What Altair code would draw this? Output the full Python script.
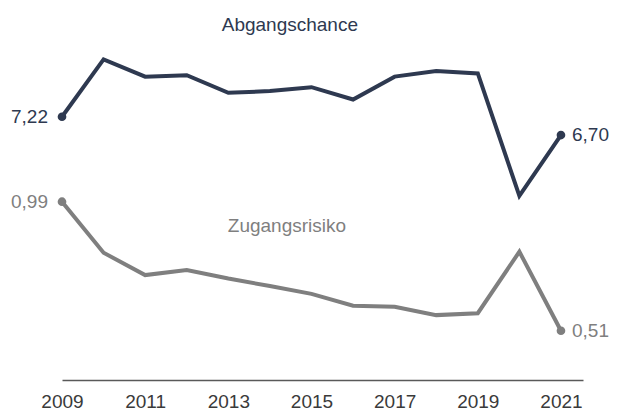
import altair as alt
import pandas as pd

# ---- data ----
years = list(range(2009, 2022))
abgangschance = [7.22, 8.85, 8.36, 8.40, 7.90, 7.95, 8.06, 7.71, 8.36, 8.52, 8.45, 4.97, 6.70]
zugangsrisiko = [0.99, 0.80, 0.717, 0.736, 0.704, 0.676, 0.647, 0.603, 0.599, 0.568, 0.575, 0.804, 0.51]
tick_years = [2009, 2011, 2013, 2015, 2017, 2019, 2021]
series_names = ["Abgangschance", "Zugangsrisiko"]

NAVY = "#2E3950"
GREY = "#7F7F7F"
FONT = "Liberation Sans"


def fmt(v):
    return f"{v:.2f}".replace(".", ",")


df = pd.DataFrame({"year": years, "a": abgangschance, "z": zugangsrisiko})
df["a_label"] = df["a"].map(fmt)
df["z_label"] = df["z"].map(fmt)

first, last = years[0], years[-1]

xs = alt.Scale(domain=[2009, 2021.53], nice=False, zero=False)
xaxis = alt.Axis(values=tick_years, format="d", title=None, grid=False, ticks=False,
                 domain=True, domainColor="#595959", domainWidth=1.5,
                 labelFontSize=19, labelFont=FONT, labelColor="#3A3A3A",
                 labelPadding=12, labelFlush=False)
ya = alt.Scale(domain=[-0.26, 10.31], nice=False, zero=False)
yz = alt.Scale(domain=[0.3266, 1.7107], nice=False, zero=False)

base = alt.Chart(df)
X = alt.X("year:Q", scale=xs, axis=xaxis)
Ya = alt.Y("a:Q", scale=ya, axis=None)
Yz = alt.Y("z:Q", scale=yz, axis=None)
ends = f"datum.year == {first} || datum.year == {last}"

line_a = base.mark_line(color=NAVY, strokeWidth=4).encode(x=X, y=Ya)
line_z = base.mark_line(color=GREY, strokeWidth=4).encode(x=X, y=Yz)
pts_a = base.transform_filter(ends).mark_circle(size=75, opacity=1, color=NAVY).encode(x=X, y=Ya)
pts_z = base.transform_filter(ends).mark_circle(size=75, opacity=1, color=GREY).encode(x=X, y=Yz)

txt = dict(fontSize=19, font=FONT, baseline="middle")
la_first = base.transform_filter(f"datum.year == {first}").mark_text(
    align="right", dx=-14, color=NAVY, **txt).encode(x=X, y=Ya, text="a_label:N")
la_last = base.transform_filter(f"datum.year == {last}").mark_text(
    align="left", dx=11, color=NAVY, **txt).encode(x=X, y=Ya, text="a_label:N")
lz_first = base.transform_filter(f"datum.year == {first}").mark_text(
    align="right", dx=-14, color=GREY, **txt).encode(x=X, y=Yz, text="z_label:N")
lz_last = base.transform_filter(f"datum.year == {last}").mark_text(
    align="left", dx=11, color=GREY, **txt).encode(x=X, y=Yz, text="z_label:N")

ann_a = alt.Chart(pd.DataFrame({"x": [2014.48], "v": [9.655], "t": [series_names[0]]})).mark_text(
    fontSize=19, font=FONT, baseline="alphabetic", align="center", color=NAVY
).encode(x=alt.X("x:Q", scale=xs, axis=xaxis), y=alt.Y("v:Q", scale=ya, axis=None), text="t:N")
ann_z = alt.Chart(pd.DataFrame({"x": [2014.41], "v": [0.877], "t": [series_names[1]]})).mark_text(
    fontSize=19, font=FONT, baseline="alphabetic", align="center", color=GREY
).encode(x=alt.X("x:Q", scale=xs, axis=xaxis), y=alt.Y("v:Q", scale=yz, axis=None), text="t:N")

chart = alt.layer(
    line_a, line_z, pts_a, pts_z, la_first, la_last, lz_first, lz_last, ann_a, ann_z
).resolve_scale(y="independent").properties(
    width=521, height=372,
    autosize=alt.AutoSizeParams(type="none"),
    padding={"left": 54, "top": 0, "right": 27, "bottom": 32},
    background="white",
).configure_view(stroke=None)

chart.save("out.html", embed_options={"renderer": "svg", "actions": False})
